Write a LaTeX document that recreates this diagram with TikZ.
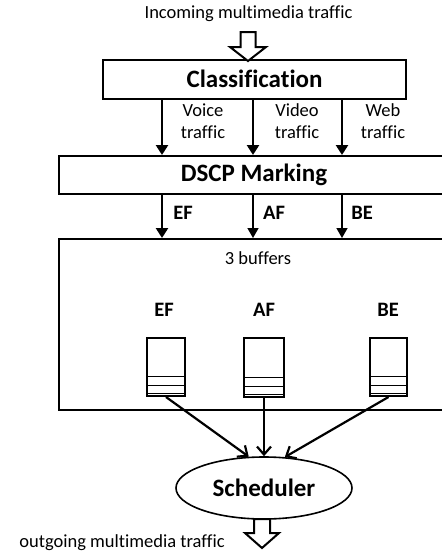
\documentclass[tikz,border=0pt]{standalone}
\usepackage{fontspec}
\setmainfont{Carlito}[Ligatures=NoCommon]
\usetikzlibrary{shapes.geometric,arrows.meta,calc}
\begin{document}
\begin{tikzpicture}[x=1pt,y=-1pt,
  box/.style={draw,line width=2pt,inner sep=0pt},
  lbl/.style={inner sep=0pt,align=center,font=\fontsize{18.5}{22}\selectfont},
  blbl/.style={inner sep=0pt,font=\fontsize{20.5}{24}\selectfont\bfseries},
  big/.style={inner sep=0pt,font=\fontsize{25}{30}\selectfont\bfseries},
  arr/.style={line width=2.6pt,-{Triangle[width=12pt,length=10pt]}},
  thinarr/.style={line width=1.5pt,-{Triangle[width=11pt,length=10pt]}},
  sarr/.style={line width=2.2pt,-{Straight Barb[width=14pt,length=8pt]}},
  hollow/.style={draw,line width=2pt,fill=white},
  buf/.style={draw,line width=2pt,inner sep=0pt},
  sep/.style={line width=1pt}
]
\useasboundingbox (0,0) rectangle (442,552);
\clip (0,0) rectangle (442,552);

% top text and input arrow
\node[lbl] (inc) at (248.5,14) {Incoming multimedia traffic};
\node[box,minimum width=303pt,minimum height=39pt] (cls) at (254.5,79.5) {};
\node[big] (clst) at (254.5,79) {Classification};
\draw[hollow] (240.5,32) -- (255.5,32) -- (255.5,47) -- (266,47) -- (248,61) -- (230,47) -- (240.5,47) -- cycle;

% DSCP marking
\node[box,minimum width=430pt,minimum height=38pt] (dscp) at (274,175) {};
\node[big] (dscpt) at (254,175) {DSCP Marking};

\coordinate (c1) at (162,0);
\coordinate (c2) at (253,0);
\coordinate (c3) at (342,0);

\draw[arr] (cls.south -| c1) -- (dscp.north -| c1);
\draw[arr] (cls.south -| c2) -- (dscp.north -| c2);
\draw[arr] (cls.south -| c3) -- (dscp.north -| c3);

\node[lbl] (voice) at (203,121) {Voice\\traffic};
\node[lbl] (video) at (297,121) {Video\\traffic};
\node[lbl] (web) at (383,121) {Web\\traffic};

% buffers box
\node[box,minimum width=430pt,minimum height=171pt] (bufbox) at (274,324.5) {};
\draw[arr] (dscp.south -| c1) -- (bufbox.north -| c1);
\draw[thinarr] (dscp.south -| c2) -- (bufbox.north -| c2);
\draw[thinarr] (dscp.south -| c3) -- (bufbox.north -| c3);

\node[blbl] (lef) at (183,213) {EF};
\node[blbl] (laf) at (274,213) {AF};
\node[blbl] (lbe) at (362,213) {BE};

\node[lbl] (three) at (258,258) {3 buffers};
\node[blbl] (tef) at (164,310) {EF};
\node[blbl] (taf) at (264,310) {AF};
\node[blbl] (tbe) at (388,310) {BE};

\node[buf,minimum width=38pt,minimum height=58pt] (bef) at (166,367) {};
\node[buf,minimum width=40pt,minimum height=59pt] (baf) at (264,367.5) {};
\node[buf,minimum width=37pt,minimum height=58pt] (bbe) at (388.5,367) {};
\foreach \b in {bef,baf,bbe}{
  \foreach \h in {4,12,21}{
    \draw[sep] ([yshift=\h pt]\b.south west) -- ([yshift=\h pt]\b.south east);
  }
}

% scheduler
\node[draw,ellipse,line width=1.6pt,minimum width=176pt,minimum height=62pt,inner sep=0pt,font=\fontsize{25}{30}\selectfont\bfseries] (sch) at (264,488) {Scheduler};
\draw[sarr] (bef.south) -- (sch.116);
\draw[sarr] (baf.south) -- (sch.north);
\draw[sarr] (bbe.south) -- (sch.56);

% output
\draw[hollow] (254,519) -- (270,519) -- (270,533) -- (279,533) -- (262,548) -- (245,533) -- (254,533) -- cycle;
\node[lbl] (out) at (122,543) {outgoing multimedia traffic};
\end{tikzpicture}
\end{document}
